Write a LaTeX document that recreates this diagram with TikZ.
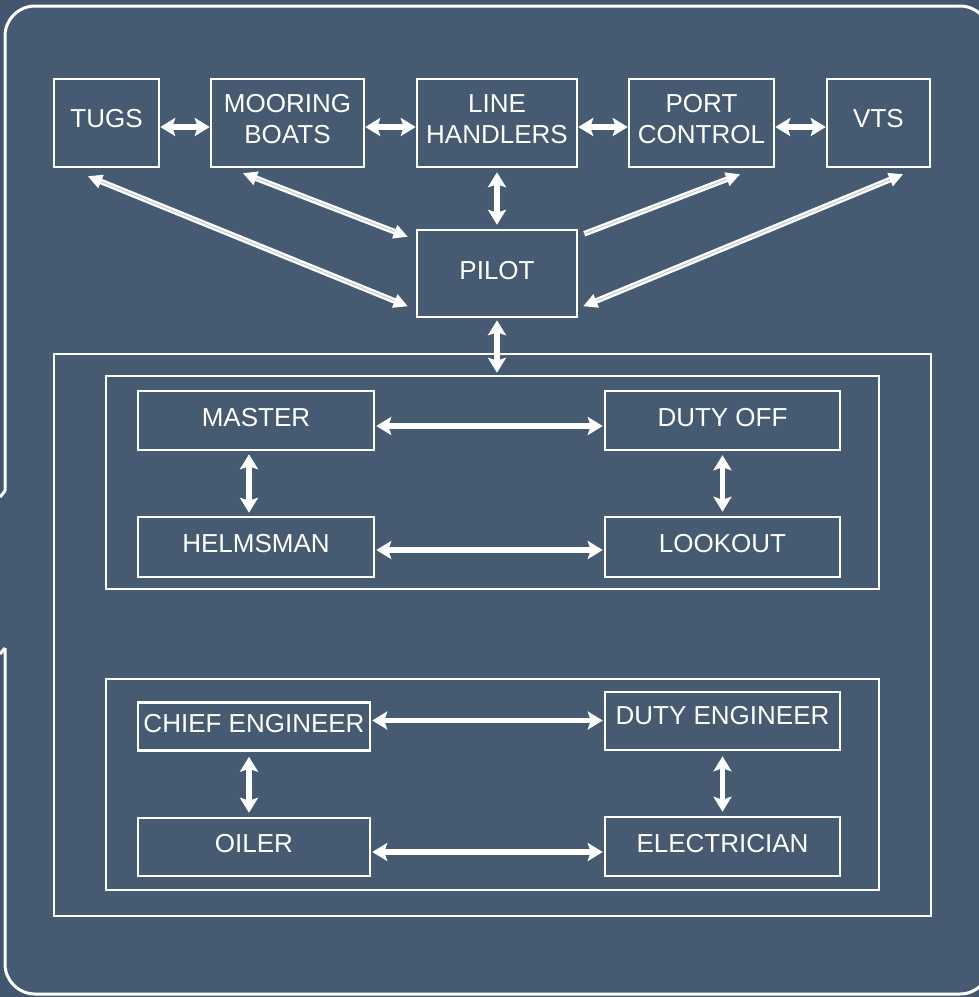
\documentclass[tikz,border=0pt]{standalone}
\usepackage{fontspec}
\setmainfont{Liberation Sans}
\usetikzlibrary{arrows.meta}
\definecolor{bgc}{HTML}{465B72}
\definecolor{outc}{HTML}{42566D}
\definecolor{midc}{HTML}{C9CFD6}
\tikzset{
  box/.style={draw=white, line width=2.5pt, inner sep=0pt},
  txt/.style={text=white, font=\fontsize{26}{31}\selectfont, align=center, inner sep=0pt},
  harrow/.style={white, line width=5.5pt, {Stealth[length=15pt,width=18pt,inset=3pt]}-{Stealth[length=15pt,width=18pt,inset=3pt]}},
  darrow/.style={draw=white, double=midc, double distance=1.2pt, line width=2.2pt},
  dtip/.style={-{Triangle[length=14pt,width=14pt]}},
  dtips/.style={{Triangle[length=14pt,width=14pt]}-{Triangle[length=14pt,width=14pt]}},
}
\begin{document}
\begin{tikzpicture}[x=1pt,y=-1pt]
\useasboundingbox (0,0) rectangle (979,997);
\clip (0,0) rectangle (979,997);
\fill[outc] (0,0) rectangle (979,997);
\fill[bgc, rounded corners=30] (5,6) rectangle (990,994);
\fill[bgc] (0,497) -- (5,491) -- (5,648) -- (0,654) -- cycle;
\draw[white, line width=3pt, rounded corners=30] (5,491) -- (5,6) -- (990,6) -- (990,994) -- (5,994) -- (5,648);
\draw[white, line width=3pt] (0,497) -- (5,491);
\draw[white, line width=3pt] (5,648) -- (0,654);

% top row
\node[box, minimum width=105, minimum height=88, label={[txt, yshift=4]center:TUGS}] (tugs) at (106.5,123) {};
\node[box, minimum width=153, minimum height=88, label={[txt, yshift=4]center:MOORING\\BOATS}] (moor) at (287.5,123) {};
\node[box, minimum width=160, minimum height=88, label={[txt, yshift=4]center:LINE\\HANDLERS}] (line) at (497,123) {};
\node[box, minimum width=145, minimum height=88, label={[txt, yshift=4]center:PORT\\CONTROL}] (port) at (701.5,123) {};
\node[box, minimum width=103, minimum height=88, label={[txt, yshift=4]center:VTS}] (vts) at (878.5,123) {};
\node[box, minimum width=160, minimum height=87, label={[txt, yshift=3]center:PILOT}] (pilot) at (497,273.5) {};

% frames
\node[box, minimum width=877, minimum height=562] (ship) at (492.5,635) {};
\node[box, minimum width=773, minimum height=213] (bridge) at (492.5,482.5) {};
\node[box, minimum width=773, minimum height=211] (engine) at (492.5,784.5) {};

% bridge boxes
\node[box, minimum width=236, minimum height=59, label={[txt, yshift=3]center:MASTER}] (master) at (256,420.5) {};
\node[box, minimum width=235, minimum height=59, label={[txt, yshift=3]center:DUTY OFF}] (dutyoff) at (722.5,420.5) {};
\node[box, minimum width=236, minimum height=60, label={[txt, yshift=3]center:HELMSMAN}] (helm) at (256,547) {};
\node[box, minimum width=235, minimum height=60, label={[txt, yshift=3]center:LOOKOUT}] (look) at (722.5,547) {};

% engine boxes
\node[box, minimum width=232, minimum height=48, label={[txt, yshift=3]center:CHIEF ENGINEER}] (chief) at (254,726.5) {};
\node[box, minimum width=235, minimum height=58, label={[txt, yshift=5]center:DUTY ENGINEER}] (dutyeng) at (722.5,721) {};
\node[box, minimum width=232, minimum height=58, label={[txt, yshift=3]center:OILER}] (oiler) at (254,847) {};
\node[box, minimum width=235, minimum height=59, label={[txt, yshift=3]center:ELECTRICIAN}] (elec) at (722.5,846.5) {};

% top horizontal arrows
\draw[harrow] ([yshift=-4]tugs.east) -- ([yshift=-4]moor.west);
\draw[harrow] ([yshift=-4]moor.east) -- ([yshift=-4]line.west);
\draw[harrow] ([yshift=-4]line.east) -- ([yshift=-4]port.west);
\draw[harrow] ([yshift=-4]port.east) -- ([yshift=-4]vts.west);
\draw[harrow, shorten <=4pt, shorten >=4pt] (line.south) -- (pilot.north);
\draw[harrow, shorten <=2pt, shorten >=2pt] (pilot.south) -- (pilot.south |- bridge.north);

% diagonal arrows
\draw[darrow, dtips] ([xshift=-18.5,yshift=-8]tugs.south) -- ([xshift=-8,yshift=12]pilot.south west);
\draw[darrow, dtips] ([xshift=-44.5,yshift=-5]moor.south) -- ([xshift=-8,yshift=-8]pilot.north west);
\draw[darrow, dtip] ([xshift=6,yshift=-5]pilot.north east) -- ([xshift=38.5,yshift=-6]port.south);
\draw[darrow, dtips] ([xshift=5,yshift=12]pilot.south east) -- ([xshift=24.5,yshift=-6]vts.south);

% bridge arrows
\draw[harrow, shorten <=1pt, shorten >=1pt] ([yshift=-5.5]master.east) -- ([yshift=-5.5]dutyoff.west);
\draw[harrow, shorten <=1pt, shorten >=1pt] ([yshift=-3]helm.east) -- ([yshift=-3]look.west);
\draw[harrow, shorten <=3pt, shorten >=3pt] ([xshift=-7]master.south) -- ([xshift=-7]helm.north);
\draw[harrow, shorten <=4pt, shorten >=4pt] (dutyoff.south) -- (look.north);

% engine arrows
\draw[harrow, shorten <=1pt, shorten >=1pt] ([yshift=6]chief.east) -- ([yshift=6]chief.east -| dutyeng.west);
\draw[harrow, shorten <=1pt, shorten >=1pt] ([yshift=-5]oiler.east) -- ([yshift=-5]oiler.east -| elec.west);
\draw[harrow, shorten <=5pt, shorten >=4pt] ([xshift=-5]chief.south) -- ([xshift=-5]chief.south |- oiler.north);
\draw[harrow, shorten <=5pt, shorten >=4pt] (dutyeng.south) -- (elec.north);
\end{tikzpicture}
\end{document}
